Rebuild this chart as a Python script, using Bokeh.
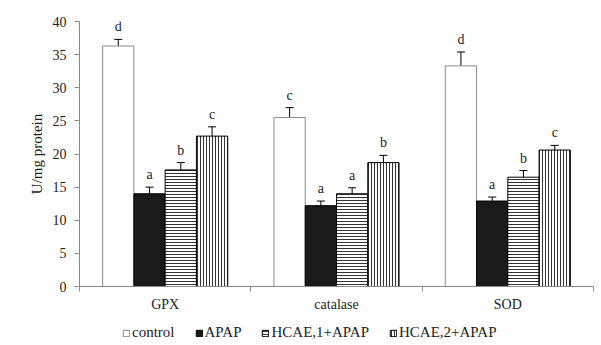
from bokeh.plotting import figure
from bokeh.layouts import column
from bokeh.models import (ColumnDataSource, Range1d, FixedTicker, Whisker, TeeHead,
                          Legend, LegendItem)
from bokeh.core.properties import value
from bokeh.embed import file_html
from bokeh.resources import INLINE

categories = ["GPX", "catalase", "SOD"]
series = ["control", "APAP", "HCAE,1+APAP", "HCAE,2+APAP"]
control = [36.3, 25.5, 33.3]
apap = [14.0, 12.2, 12.9]
hcae1 = [17.6, 14.0, 16.5]
hcae2 = [22.7, 18.7, 20.6]
control_err = [1.0, 1.5, 2.1]
apap_err = [1.0, 0.7, 0.6]
hcae1_err = [1.1, 0.9, 1.0]
hcae2_err = [1.4, 1.1, 0.7]
control_letters = ["d", "c", "d"]
apap_letters = ["a", "a", "a"]
hcae1_letters = ["b", "a", "b"]
hcae2_letters = ["c", "b", "c"]
y_ticks = [0, 5, 10, 15, 20, 25, 30, 35, 40]

FONT = "Liberation Serif"
BAR_W = 0.1825
offsets = [-1.5 * BAR_W, -0.5 * BAR_W, 0.5 * BAR_W, 1.5 * BAR_W]
W = 595

p = figure(width=W, height=314, output_backend="svg", toolbar_location=None,
           x_range=Range1d(0, 3), y_range=Range1d(0, 40),
           min_border_left=79, min_border_right=2, min_border_top=21, min_border_bottom=26)
p.outline_line_color = None
p.xgrid.visible = False
p.ygrid.visible = False
p.background_fill_color = "white"
p.border_fill_color = "white"

styles = [
    dict(fill_color="white", line_color="#8a8a8a"),
    dict(fill_color="#1a1a1a", line_color="black"),
    dict(fill_color="white", line_color="black", hatch_pattern="horizontal_line",
         hatch_scale=3, hatch_weight=1, hatch_color="#333333"),
    dict(fill_color="white", line_color="black", hatch_pattern="vertical_line",
         hatch_scale=3, hatch_weight=1, hatch_color="#333333"),
]
data = [(control, control_err, control_letters), (apap, apap_err, apap_letters),
        (hcae1, hcae1_err, hcae1_letters), (hcae2, hcae2_err, hcae2_letters)]

# legend strip figure (frames are aligned by the column layout)
lg = figure(width=W, height=27, output_backend="svg", toolbar_location=None,
            x_range=Range1d(0, 1), y_range=Range1d(0, 1),
            min_border_left=0, min_border_right=0, min_border_top=0, min_border_bottom=0)
lg.xaxis.visible = False
lg.yaxis.visible = False
lg.xgrid.visible = False
lg.ygrid.visible = False
lg.outline_line_color = None
lg.border_fill_color = "white"

items = []
for i, (vals, errs, letters) in enumerate(data):
    xs = [j + 0.5 + offsets[i] for j in range(len(categories))]
    src = ColumnDataSource(dict(x=xs, top=vals,
                                upper=[v + e for v, e in zip(vals, errs)],
                                lower=[v - e for v, e in zip(vals, errs)],
                                letter=letters))
    p.vbar(x="x", top="top", bottom=0, width=BAR_W, source=src, line_width=1, **styles[i])
    w = Whisker(base="x", upper="upper", lower="lower", source=src, line_color="black",
                line_width=1,
                upper_head=TeeHead(size=8, line_color="black", line_width=1),
                lower_head=TeeHead(size=8, line_color="black", line_width=1))
    p.add_layout(w)
    p.text(x="x", y="upper", text="letter", source=src, text_align="center",
           text_baseline="bottom", y_offset=-5, text_font=value(FONT),
           text_font_size="14px", text_color="#222222")
    # proxy renderer (zero height, off-range) that only serves the legend swatch
    proxy = ColumnDataSource(dict(x=[-5], top=[0]))
    r = lg.vbar(x="x", top="top", bottom=0, width=0.1, source=proxy, line_width=1, **styles[i])
    items.append(LegendItem(label=series[i], renderers=[r]))

# axes
p.xaxis.ticker = FixedTicker(ticks=[0.5, 1.5, 2.5], minor_ticks=[0, 1, 2, 3])
p.xaxis.major_label_overrides = {0.5: categories[0], 1.5: categories[1], 2.5: categories[2]}
p.xaxis.major_tick_line_color = None
p.xaxis.minor_tick_out = 5
p.xaxis.minor_tick_in = 0
p.xaxis.minor_tick_line_color = "#8a8a8a"
p.xaxis.major_label_standoff = 4

p.yaxis.ticker = FixedTicker(ticks=y_ticks)
p.yaxis.minor_tick_line_color = None
p.yaxis.major_tick_out = 5
p.yaxis.major_tick_in = 0
p.yaxis.major_tick_line_color = "#8a8a8a"
p.yaxis.major_label_standoff = 8
p.yaxis.axis_label = "U/mg protein"
p.yaxis.axis_label_standoff = 5
p.yaxis.axis_label_text_font_style = "normal"

for ax in (p.xaxis, p.yaxis):
    ax.axis_line_color = "#8a8a8a"
    ax.major_label_text_font = FONT
    ax.major_label_text_font_size = "14px"
    ax.major_label_text_color = "#222222"
    ax.axis_label_text_font = FONT
    ax.axis_label_text_font_size = "15px"
    ax.axis_label_text_color = "#222222"

legend = Legend(items=items, orientation="horizontal", location=(43, 0),
                label_text_font=FONT, label_text_font_size="15px",
                label_text_color="#222222",
                glyph_width=8, glyph_height=8, label_standoff=2, spacing=20,
                padding=3, margin=0, border_line_color=None,
                background_fill_alpha=0, label_height=14)
lg.add_layout(legend, "center")

layout = column(p, lg, spacing=0)
open("out.html", "w").write(file_html(layout, INLINE))
